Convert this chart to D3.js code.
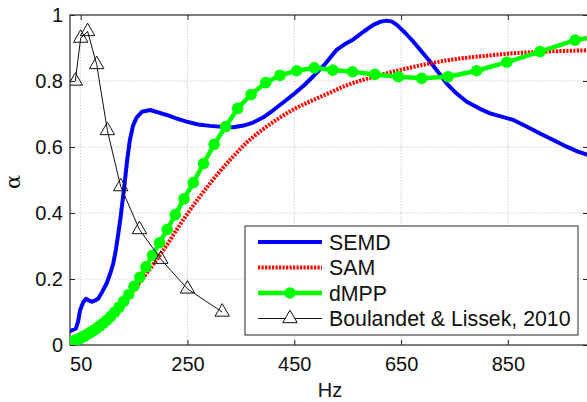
<!DOCTYPE html>
<html>
<head>
<meta charset="utf-8">
<script src="https://cdn.jsdelivr.net/npm/d3@7/dist/d3.min.js"></script>
<style>
  html, body { margin: 0; padding: 0; background: #fff; }
  svg { display: block; font-family: "Liberation Sans", Arial, sans-serif; }
</style>
</head>
<body>
<svg id="chart" width="587" height="402"></svg>
<script>
// Absorption coefficient vs frequency for three absorber models and a reference measurement

const xTicks = [50, 250, 450, 650, 850];
const yTicks = [0, 0.2, 0.4, 0.6, 0.8, 1];

// SEMD
const semdHz = [30, 32, 41, 45, 49, 55, 60, 65, 70.6, 77, 83, 90, 98.7, 105, 111, 116, 120.5, 125, 128.7, 133, 137, 142, 148, 155, 165, 180, 195, 211, 230, 248.5, 270, 292, 315, 336, 355, 373, 392, 411, 431, 451, 469, 486, 508, 529, 545, 560.5, 580, 598, 612, 623, 633, 642, 657, 673, 688, 704, 720, 735, 754, 773, 795, 816.5, 838, 860, 885, 910, 935, 960, 980, 1000];
const semdAlpha = [0.043, 0.043, 0.05, 0.07, 0.106, 0.13, 0.14, 0.135, 0.131, 0.135, 0.141, 0.16, 0.187, 0.215, 0.247, 0.29, 0.338, 0.39, 0.44, 0.5, 0.56, 0.62, 0.665, 0.69, 0.707, 0.712, 0.705, 0.697, 0.686, 0.677, 0.668, 0.664, 0.661, 0.66, 0.665, 0.674, 0.69, 0.712, 0.737, 0.763, 0.788, 0.815, 0.852, 0.894, 0.912, 0.926, 0.95, 0.97, 0.98, 0.983, 0.98, 0.97, 0.947, 0.919, 0.89, 0.859, 0.826, 0.793, 0.762, 0.737, 0.718, 0.702, 0.692, 0.682, 0.662, 0.641, 0.621, 0.601, 0.587, 0.576];

// SAM
const samHz = [30, 50, 70, 90, 110, 130, 150, 170, 185, 200, 215, 230, 250, 270, 290, 310, 335, 360, 390, 420, 450, 485, 520, 550, 580, 610, 650, 700, 750, 800, 860, 920, 1000];
const samAlpha = [0.008, 0.02, 0.038, 0.062, 0.092, 0.127, 0.167, 0.21, 0.242, 0.276, 0.312, 0.35, 0.398, 0.443, 0.485, 0.525, 0.57, 0.612, 0.652, 0.686, 0.715, 0.742, 0.767, 0.788, 0.804, 0.818, 0.834, 0.852, 0.866, 0.875, 0.884, 0.889, 0.893];

// dMPP (1/10-octave points)
const dmppHz = [30.4, 32.6, 34.9, 37.4, 40.1, 43.0, 46.1, 49.4, 53.0, 56.8, 60.9, 65.2, 69.9, 74.9, 80.3, 86.1, 92.2, 98.9, 106.0, 113.6, 121.7, 130.5, 139.8, 149.9, 160.6, 172.2, 184.5, 197.8, 212.0, 227.2, 243.5, 261, 280, 300, 321.5, 344, 369, 396.5, 423, 454.5, 487.5, 522, 559, 601, 645, 688.5, 738, 791.5, 848, 910, 976, 1000];
const dmppAlpha = [0.008, 0.009, 0.010, 0.012, 0.014, 0.016, 0.018, 0.021, 0.024, 0.027, 0.031, 0.035, 0.040, 0.045, 0.051, 0.058, 0.066, 0.075, 0.086, 0.099, 0.114, 0.132, 0.153, 0.178, 0.205, 0.237, 0.272, 0.31, 0.35, 0.395, 0.443, 0.492, 0.55, 0.608, 0.662, 0.717, 0.759, 0.795, 0.817, 0.831, 0.84, 0.833, 0.828, 0.82, 0.813, 0.808, 0.813, 0.831, 0.857, 0.889, 0.924, 0.93];

// Boulandet & Lissek, 2010 (1/3-octave bands)
const blHz = [40, 50, 63, 80, 100, 125, 160, 200, 250, 315];
const blAlpha = [0.80, 0.93, 0.95, 0.85, 0.65, 0.48, 0.35, 0.26, 0.17, 0.10];

const seriesNames = ["SEMD", "SAM", "dMPP", "Boulandet & Lissek, 2010"];

const svg = d3.select("#chart");
const pLeft = 70, pRight = 588, pTop = 15, pBottom = 345;

const x = d3.scaleLinear().domain([30, 1000]).range([pLeft, pRight]);
const y = d3.scaleLinear().domain([0, 1]).range([pBottom, pTop]);

const zip = (a, b) => a.map((v, i) => [v, b[i]]);
const line = d3.line().x(d => x(d[0])).y(d => y(d[1]));
const smooth = d3.line().x(d => x(d[0])).y(d => y(d[1])).curve(d3.curveMonotoneX);

svg.append("defs").append("clipPath").attr("id", "plotclip")
  .append("rect").attr("x", pLeft).attr("y", pTop)
  .attr("width", pRight - pLeft).attr("height", pBottom - pTop);

// grid
const grid = svg.append("g").attr("stroke", "#c4c4c4").attr("stroke-width", 0.8)
  .attr("stroke-dasharray", "1.5,1.5");
grid.selectAll(".gx").data(xTicks).join("line")
  .attr("x1", d => x(d)).attr("x2", d => x(d)).attr("y1", pTop).attr("y2", pBottom);
grid.selectAll(".gy").data(yTicks.filter(d => d > 0 && d < 1)).join("line")
  .attr("x1", pLeft).attr("x2", pRight).attr("y1", d => y(d)).attr("y2", d => y(d));

// axes with inward ticks
const fmtY = d => (d === 0 ? "0" : d === 1 ? "1" : d3.format(".1f")(d));
const styleAxis = g => {
  g.select(".domain").remove();
  g.selectAll(".tick line").attr("stroke", "#262626");
  g.selectAll("text").attr("font-size", 20).attr("fill", "#111")
    .attr("font-family", "'Liberation Sans', Arial, sans-serif");
};
svg.append("g").attr("transform", `translate(0,${pBottom})`)
  .call(d3.axisBottom(x).tickValues(xTicks).tickSize(-5).tickPadding(12).tickFormat(d3.format("d")))
  .call(styleAxis);
svg.append("g").attr("transform", `translate(0,${pTop})`)
  .call(d3.axisTop(x).tickValues(xTicks).tickSize(-5).tickFormat(""))
  .call(styleAxis);
svg.append("g").attr("transform", `translate(${pLeft},0)`)
  .call(d3.axisLeft(y).tickValues(yTicks).tickSize(-5).tickPadding(7).tickFormat(fmtY))
  .call(styleAxis);
svg.append("g").attr("transform", `translate(${pRight},0)`)
  .call(d3.axisRight(y).tickValues(yTicks).tickSize(-5).tickFormat(""))
  .call(styleAxis);

// frame
svg.append("rect").attr("x", pLeft).attr("y", pTop)
  .attr("width", pRight - pLeft).attr("height", pBottom - pTop)
  .attr("fill", "none").attr("stroke", "#262626").attr("stroke-width", 1.2);

// series
const plot = svg.append("g").attr("clip-path", "url(#plotclip)");

plot.append("path").datum(zip(semdHz, semdAlpha))
  .attr("d", line).attr("fill", "none").attr("stroke", "#0000ff")
  .attr("stroke-width", 4).attr("stroke-linejoin", "round");

plot.append("path").datum(zip(samHz, samAlpha))
  .attr("d", smooth).attr("fill", "none").attr("stroke", "#ff0000")
  .attr("stroke-width", 4).attr("stroke-dasharray", "2.2,1.3");

const dmpp = zip(dmppHz, dmppAlpha);
plot.append("path").datum(dmpp)
  .attr("d", line).attr("fill", "none").attr("stroke", "#00ff00")
  .attr("stroke-width", 4.5).attr("stroke-linejoin", "round");
plot.selectAll(".dm").data(dmpp.filter(d => d[0] < 990)).join("circle")
  .attr("cx", d => x(d[0])).attr("cy", d => y(d[1])).attr("r", 5.8)
  .attr("fill", "#00ff00");

const tri = d3.symbol().type(d3.symbolTriangle).size(90);
const bl = zip(blHz, blAlpha);
plot.append("path").datum(bl)
  .attr("d", line).attr("fill", "none").attr("stroke", "#111").attr("stroke-width", 1);
plot.selectAll(".bl").data(bl).join("path")
  .attr("transform", d => `translate(${x(d[0])},${y(d[1])})`)
  .attr("d", tri).attr("fill", "none").attr("stroke", "#111").attr("stroke-width", 1);

// axis titles
svg.append("text").attr("x", 330).attr("y", 397).attr("text-anchor", "middle")
  .attr("font-size", 20).attr("fill", "#111").text("Hz");
svg.append("text").attr("transform", "translate(20,182) rotate(-90)")
  .attr("text-anchor", "middle").attr("font-size", 21).attr("fill", "#111")
  .attr("font-family", "'DejaVu Serif', serif").text("α");

// legend
const lg = svg.append("g");
lg.append("rect").attr("x", 245).attr("y", 226).attr("width", 333).attr("height", 109)
  .attr("fill", "#fff").attr("stroke", "#262626").attr("stroke-width", 1);
const rowsY = [242, 267.5, 293, 318.5];
const rows = lg.selectAll(".row").data(seriesNames).join("g")
  .attr("transform", (d, i) => `translate(0,${rowsY[i]})`);
rows.append("text").attr("x", 329).attr("y", 0).attr("dy", "0.36em")
  .attr("font-size", 21.3).attr("fill", "#111").text(d => d);
const sample = [
  { stroke: "#0000ff", width: 4, dash: null },
  { stroke: "#ff0000", width: 4, dash: "2.2,1.3" },
  { stroke: "#00ff00", width: 4.5, dash: null },
  { stroke: "#111", width: 1, dash: null }
];
rows.append("line").attr("x1", 258).attr("x2", 322)
  .attr("stroke", (d, i) => sample[i].stroke)
  .attr("stroke-width", (d, i) => sample[i].width)
  .attr("stroke-dasharray", (d, i) => sample[i].dash);
rows.filter((d, i) => i === 2).append("circle").attr("cx", 290).attr("r", 5.8).attr("fill", "#00ff00");
rows.filter((d, i) => i === 3).append("path").attr("transform", "translate(290,0)")
  .attr("d", tri).attr("fill", "#fff").attr("stroke", "#111").attr("stroke-width", 1);
</script>
</body>
</html>
